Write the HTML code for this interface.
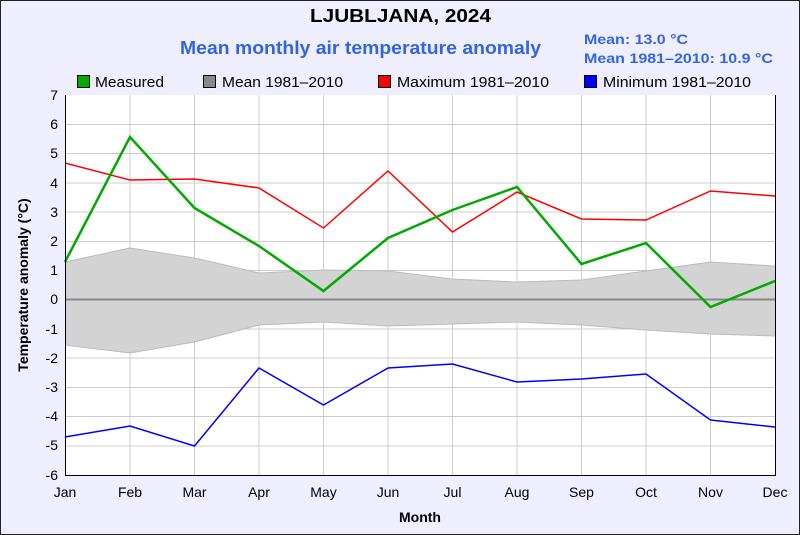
<!DOCTYPE html><html><head><style>body{margin:0}svg{display:block;font-family:"Liberation Sans",sans-serif}</style></head><body>
<svg width="800" height="535" xmlns="http://www.w3.org/2000/svg">
<rect x="0.5" y="0.5" width="799" height="534" fill="#eeeeff" stroke="#222"/>
<text x="310" y="22" font-size="18" font-weight="bold" textLength="181" lengthAdjust="spacingAndGlyphs">LJUBLJANA, 2024</text>
<text x="180" y="54" font-size="18" font-weight="bold" fill="#3366dd" textLength="361" lengthAdjust="spacingAndGlyphs">Mean monthly air temperature anomaly</text>
<text x="584" y="44" font-size="14" font-weight="bold" fill="#3366dd" textLength="104" lengthAdjust="spacingAndGlyphs">Mean: 13.0 °C</text>
<text x="584" y="63" font-size="14" font-weight="bold" fill="#3366dd" textLength="189" lengthAdjust="spacingAndGlyphs">Mean 1981–2010: 10.9 °C</text>
<g font-size="15">
<rect x="77.5" y="75.5" width="12" height="12" fill="#00aa00" stroke="#000"/><text x="95" y="87" textLength="69" lengthAdjust="spacingAndGlyphs">Measured</text>
<rect x="203.5" y="75.5" width="12" height="12" fill="#888" stroke="#000"/><text x="222" y="87" textLength="121" lengthAdjust="spacingAndGlyphs">Mean 1981–2010</text>
<rect x="378.5" y="75.5" width="12" height="12" fill="#ff0000" stroke="#000"/><text x="397" y="87" textLength="152" lengthAdjust="spacingAndGlyphs">Maximum 1981–2010</text>
<rect x="584.5" y="75.5" width="12" height="12" fill="#0000ff" stroke="#000"/><text x="603" y="87" textLength="148" lengthAdjust="spacingAndGlyphs">Minimum 1981–2010</text>
</g>
<rect x="65" y="95" width="710" height="380" fill="#fff"/>
<g stroke="#ccc" stroke-width="1">
<path d="M65.5 95V475M130 95V475M194.5 95V475M259 95V475M323.5 95V475M388 95V475M452.5 95V475M517 95V475M581.5 95V475M646 95V475M710.5 95V475"/>
<path d="M65 124.5H775M65 153.5H775M65 183H775M65 212H775M65 241.5H775M65 270.5H775M65 329H775M65 358H775M65 387.5H775M65 416.5H775M65 446H775"/>
</g>
<polygon fill="#d3d3d3" points="65,262 130,248 194.5,258 259,273 323.5,270 388,271 452.5,279 517,282 581.5,280 646,271 710.5,262 775,266 775,336 710.5,334 646,330 581.5,325 517,322 452.5,324 388,326 323.5,322 259,325 194.5,342 130,353 65,345"/>
<polyline fill="none" stroke="#bbb" points="65,262 130,248 194.5,258 259,273 323.5,270 388,271 452.5,279 517,282 581.5,280 646,271 710.5,262 775,266"/>
<polyline fill="none" stroke="#bbb" points="775,336 710.5,334 646,330 581.5,325 517,322 452.5,324 388,326 323.5,322 259,325 194.5,342 130,353 65,345"/>
<line x1="65" y1="299.5" x2="775" y2="299.5" stroke="#888" stroke-width="2"/>
<polyline fill="none" stroke="#ff0000" stroke-width="1.5" points="65,163 130,180 194.5,179 259,188 323.5,228 388,171 452.5,232 517,192 581.5,219 646,220 710.5,191 775,196"/>
<polyline fill="none" stroke="#0000ff" stroke-width="1.5" points="65,437 130,426 194.5,446 259,368 323.5,405 388,368 452.5,364 517,382 581.5,379 646,374 710.5,420 775,427"/>
<polyline fill="none" stroke="#00aa00" stroke-width="2.5" points="65,262 130,137 194.5,208 259,246 323.5,291 388,238 452.5,210 517,187 581.5,264 646,243 710.5,307 775,281"/>
<path d="M65.5 95V475.5H775.5V95" fill="none" stroke="#000"/>
<g font-size="14" text-anchor="end">
<text x="58" y="100">7</text><text x="58" y="129">6</text><text x="58" y="158">5</text><text x="58" y="188">4</text><text x="58" y="217">3</text><text x="58" y="246">2</text><text x="58" y="275">1</text><text x="58" y="304">0</text><text x="58" y="334">-1</text><text x="58" y="363">-2</text><text x="58" y="392">-3</text><text x="58" y="421">-4</text><text x="58" y="450">-5</text><text x="58" y="480">-6</text>
</g>
<g font-size="14" text-anchor="middle">
<text x="65" y="497">Jan</text><text x="130" y="497">Feb</text><text x="194.5" y="497">Mar</text><text x="259" y="497">Apr</text><text x="323.5" y="497">May</text><text x="388" y="497">Jun</text><text x="452.5" y="497">Jul</text><text x="517" y="497">Aug</text><text x="581.5" y="497">Sep</text><text x="646" y="497">Oct</text><text x="710.5" y="497">Nov</text><text x="775" y="497">Dec</text>
</g>
<text x="420" y="522" text-anchor="middle" font-size="14" font-weight="bold">Month</text>
<text transform="translate(28,285) rotate(-90)" text-anchor="middle" font-size="14" font-weight="bold">Temperature anomaly (°C)</text>
</svg></body></html>
